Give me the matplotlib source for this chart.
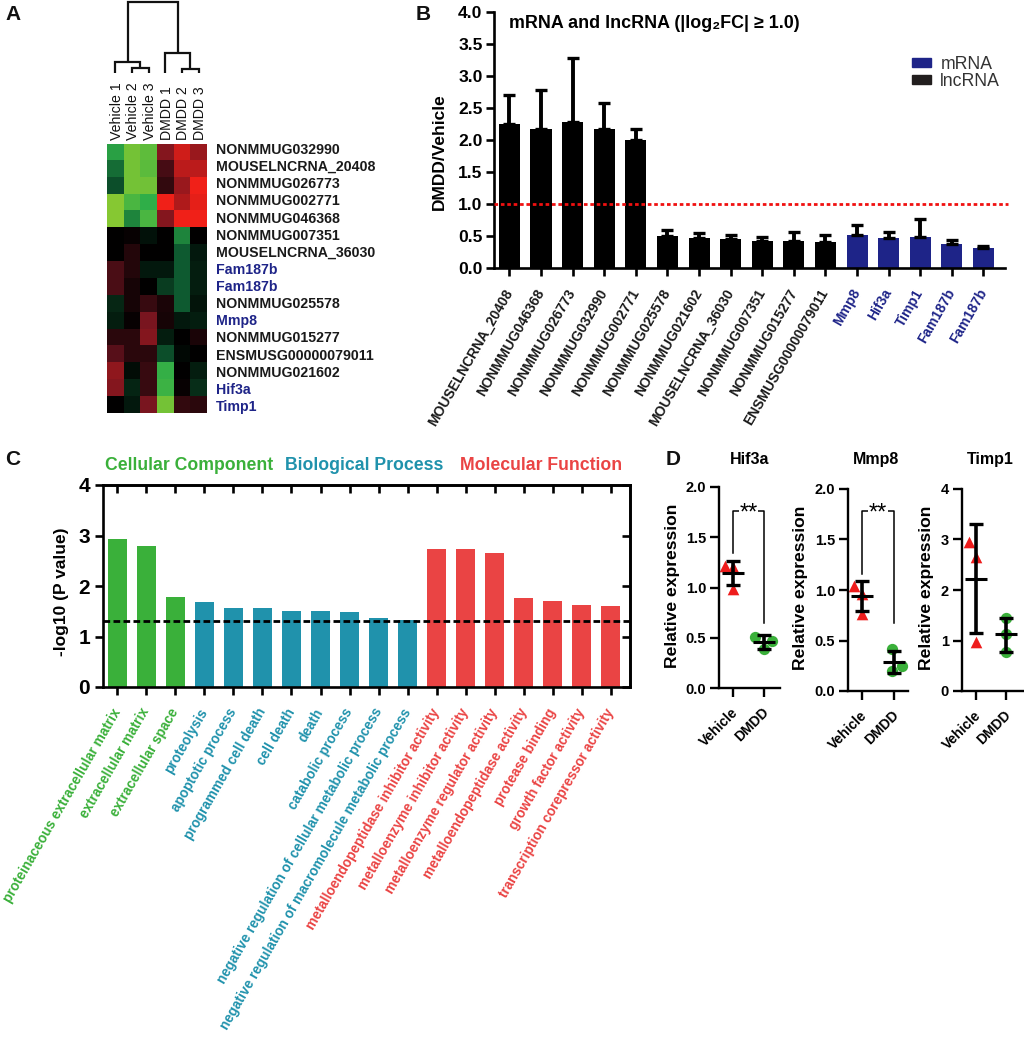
import numpy as np
import matplotlib
matplotlib.use("Agg")
import matplotlib.pyplot as plt
from matplotlib.colors import LinearSegmentedColormap
from matplotlib.patches import Patch
from matplotlib.transforms import ScaledTranslation

plt.rcParams['font.family'] = ['Liberation Sans', 'DejaVu Sans']

W, H = 1024, 1039

# === A: heatmap ===
heat_cols = ['Vehicle 1', 'Vehicle 2', 'Vehicle 3', 'DMDD 1', 'DMDD 2', 'DMDD 3']
heat_rows = ['NONMMUG032990', 'MOUSELNCRNA_20408', 'NONMMUG026773', 'NONMMUG002771',
             'NONMMUG046368', 'NONMMUG007351', 'MOUSELNCRNA_36030', 'Fam187b', 'Fam187b',
             'NONMMUG025578', 'Mmp8', 'NONMMUG015277', 'ENSMUSG00000079011', 'NONMMUG021602',
             'Hif3a', 'Timp1']
mrna_rows = ['Fam187b', 'Mmp8', 'Hif3a', 'Timp1']
heat_vals = [
    [-0.55, -0.92, -0.82, 0.50, 0.85, 0.60],
    [-0.36, -0.92, -0.80, 0.25, 0.75, 0.75],
    [-0.26, -0.92, -0.90, 0.18, 0.60, 1.00],
    [-1.00, -0.72, -0.60, 1.00, 0.70, 0.95],
    [-1.00, -0.45, -0.72, 0.50, 1.00, 1.00],
    [0.00, 0.03, -0.06, 0.00, -0.45, 0.00],
    [0.00, 0.13, 0.00, 0.00, -0.30, -0.08],
    [0.27, 0.13, -0.08, -0.08, -0.30, -0.10],
    [0.27, 0.08, 0.00, -0.20, -0.30, -0.10],
    [-0.13, 0.08, 0.20, 0.10, -0.30, -0.07],
    [-0.10, 0.03, 0.45, 0.08, -0.08, -0.10],
    [0.15, 0.15, 0.50, -0.10, 0.00, 0.10],
    [0.32, 0.15, 0.15, -0.26, -0.03, 0.00],
    [0.55, -0.04, 0.20, -0.62, 0.00, -0.10],
    [0.50, -0.12, 0.20, -0.66, 0.03, -0.15],
    [0.00, -0.08, 0.45, -0.92, 0.18, 0.15],
]
# dendrogram merge heights (root, left, left sub, right, right sub)
dend_heights = [71, 11, 5, 20, 4]

# === B: bars ===
b_names = ['MOUSELNCRNA_20408', 'NONMMUG046368', 'NONMMUG026773', 'NONMMUG032990',
           'NONMMUG002771', 'NONMMUG025578', 'NONMMUG021602', 'MOUSELNCRNA_36030',
           'NONMMUG007351', 'NONMMUG015277', 'ENSMUSG00000079011', 'Mmp8', 'Hif3a',
           'Timp1', 'Fam187b', 'Fam187b']
b_means = [2.25, 2.18, 2.29, 2.18, 2.00, 0.50, 0.47, 0.46, 0.42, 0.43, 0.41, 0.51, 0.47, 0.49, 0.37, 0.31]
b_tops = [2.71, 2.78, 3.29, 2.58, 2.18, 0.59, 0.54, 0.51, 0.49, 0.56, 0.51, 0.68, 0.57, 0.76, 0.44, 0.35]

# === C: GO terms ===
go_terms = ['proteinaceous extracellular matrix', 'extracellular matrix', 'extracellular space',
            'proteolysis', 'apoptotic process', 'programmed cell death', 'cell death', 'death',
            'catabolic process', 'negative regulation of cellular metabolic process',
            'negative regulation of macromolecule metabolic process',
            'metalloendopeptidase inhibitor activity', 'metalloenzyme inhibitor activity',
            'metalloenzyme regulator activity', 'metalloendopeptidase activity',
            'protease binding', 'growth factor activity', 'transcription corepressor activity']
go_vals = [2.93, 2.79, 1.78, 1.68, 1.57, 1.56, 1.50, 1.50, 1.49, 1.37, 1.33,
           2.73, 2.73, 2.66, 1.77, 1.70, 1.62, 1.60]
go_groups = ['cc'] * 3 + ['bp'] * 8 + ['mf'] * 7

# === D: qPCR (points, then mean, lower and upper whisker) ===
hif_veh = [1.21, 1.20, 0.99]
hif_dmdd = [0.51, 0.47, 0.39]
hif_stats = [(1.14, 1.02, 1.26), (0.46, 0.39, 0.53)]
mmp_veh = [1.04, 0.96, 0.76]
mmp_dmdd = [0.42, 0.25, 0.20]
mmp_stats = [(0.94, 0.79, 1.09), (0.29, 0.18, 0.40)]
timp_veh = [2.95, 2.65, 0.98]
timp_dmdd = [1.45, 1.12, 0.78]
timp_stats = [(2.22, 1.14, 3.30), (1.12, 0.78, 1.45)]

GREEN, TEAL, RED = '#3AB03A', '#2092AC', '#EA4444'
NAVY = '#1E2488'
go_colors = {'cc': GREEN, 'bp': TEAL, 'mf': RED}


def add_ax(l, t, r, b):
    return fig.add_axes([l / W, 1 - b / H, (r - l) / W, (b - t) / H])


def ftext(x, y, s, **kw):
    kw.setdefault('ha', 'center')
    kw.setdefault('va', 'center')
    fig.text(x / W, 1 - y / H, s, **kw)


fig = plt.figure(figsize=(W / 100, H / 100), dpi=100)

for s, x, y in [('A', 5, 14), ('B', 416, 14), ('C', 5, 460), ('D', 666, 460)]:
    ftext(x, y, s, ha='left', fontsize=15, fontweight='bold', color='#111111')

# --- panel A ---
cmap = LinearSegmentedColormap.from_list('gbr', [
    (0.00, '#86C832'), (0.20, '#2FAE48'), (0.35, '#0E5A30'), (0.50, '#000000'),
    (0.70, '#6E1420'), (1.00, '#F02018')])
ax = add_ax(107, 144, 207, 413)
ax.imshow(np.array(heat_vals), cmap=cmap, vmin=-1, vmax=1, aspect='auto', interpolation='nearest')
ax.xaxis.tick_top()
ax.set_xticks(np.arange(6) + 0.08)
ax.set_xticklabels(heat_cols, rotation=90, fontsize=10.2, color='#111111')
ax.tick_params(length=0, pad=3)
ax.set_yticks([])
for sp in ax.spines.values():
    sp.set_visible(False)

ax = add_ax(216, 141.5, 400, 415.5)
ax.set_xlim(0, 1)
ax.set_ylim(15.5, -0.5)
ax.axis('off')
for i, name in enumerate(heat_rows):
    ax.text(0, i, name, va='center', ha='left', fontsize=10.2, fontweight='bold',
            color=NAVY if name in mrna_rows else '#1A1A1A')

# dendrogram: leaves on the heatmap columns
ax = add_ax(107, 2, 207, 73)
ax.set_xlim(-0.5, 5.5)
ax.set_ylim(0, dend_heights[0])
ax.axis('off')


def merge(ax, xa, ha, xb, hb, h):
    ax.plot([xa, xa, xb, xb], [ha, h, h, hb], color='#111111', lw=1.6, clip_on=False,
            solid_joinstyle='miter', solid_capstyle='butt')
    return (xa + xb) / 2, h


x_sub, h_sub = merge(ax, 1, 0, 2, 0, dend_heights[2])
x_l, h_l = merge(ax, 0, 0, x_sub, h_sub, dend_heights[1])
x_rs, h_rs = merge(ax, 4, 0, 5, 0, dend_heights[4])
x_r, h_r = merge(ax, 3, 0, x_rs, h_rs, dend_heights[3])
merge(ax, x_l, h_l, x_r, h_r, dend_heights[0])

# --- panel B ---
ax = add_ax(493.6, 12.3, 1004.6, 268)
x = np.arange(len(b_names))
b_colors = ['black'] * 11 + [NAVY] * 5
ax.bar(x, b_means, width=0.665, color=b_colors)
err = [np.zeros(len(b_means)), np.array(b_tops) - np.array(b_means)]
ax.errorbar(x, b_means, yerr=err, fmt='none', ecolor='black', elinewidth=2.8, capsize=4.6, capthick=2.4)
ax.axhline(1.0, color='#F01010', lw=2, ls=(0, (1.3, 1)), zorder=5, xmax=1.0076, clip_on=False)
ax.set_xlim(-0.5, 15.67)
ax.set_ylim(0, 4)
ax.set_yticks(np.arange(0, 4.5, 0.5))
ax.set_yticklabels([f'{v:.1f}' for v in np.arange(0, 4.5, 0.5)], fontsize=12.6, fontweight='bold')
ax.set_xticks(x)
ax.set_xticklabels(b_names, rotation=60, ha='right', va='center', rotation_mode='anchor',
                   fontsize=10, fontweight='bold')
for lab, c in zip(ax.get_xticklabels(), b_colors):
    lab.set_color(c if c != 'black' else '#1A1A1A')
ax.tick_params(width=1.9, length=6, pad=2)
ax.tick_params(axis='x', pad=10)
ax.spines[['top', 'right']].set_visible(False)
ax.spines[['left', 'bottom']].set_linewidth(1.9)
ftext(439.4, 152, 'DMDD/Vehicle', rotation=90, fontsize=12.5, fontweight='bold')
ftext(509.4, 24, 'mRNA and lncRNA (|log\u2082FC| \u2265 1.0)', ha='left', fontsize=12.9, fontweight='bold')
ax.legend(handles=[Patch(color=NAVY, label='mRNA'), Patch(color='#221E1E', label='lncRNA')],
          loc='upper left', bbox_to_anchor=(0.819, 0.83), frameon=False, fontsize=12.7,
          handlelength=1.05, handleheight=0.42, handletextpad=0.55, labelspacing=0.02,
          borderpad=0, borderaxespad=0, labelcolor='#333333')

# --- panel C ---
ax = add_ax(102.6, 485, 629.7, 687)
x = np.arange(len(go_terms))
ax.bar(x, go_vals, width=0.665, color=[go_colors[g] for g in go_groups])
ax.axhline(1.3, color='black', lw=2, ls=(0, (2.4, 1.2)), zorder=5)
ax.set_xlim(-0.506, 17.65)
ax.set_ylim(0, 4)
ax.set_yticks(range(5))
ax.set_yticklabels(range(5), fontsize=15, fontweight='bold')
ax.set_xticks(x)
ax.set_xticklabels(go_terms, rotation=60, ha='right', va='center', rotation_mode='anchor',
                   fontsize=9.85, fontweight='bold')
for lab, g in zip(ax.get_xticklabels(), go_groups):
    lab.set_color(go_colors[g])
ax.tick_params(width=1.9, length=6, pad=3)
ax.tick_params(axis='x', pad=10)
for sp in ax.spines.values():
    sp.set_linewidth(1.9)
sec = ax.secondary_xaxis('top')
sec.set_xticks(x)
sec.tick_params(direction='in', width=1.9, length=6, labeltop=False)
sec.spines['top'].set_linewidth(1.9)
sec = ax.secondary_yaxis('right')
sec.set_yticks(range(5))
sec.tick_params(direction='in', width=1.9, length=6, labelright=False)
sec.spines['right'].set_linewidth(1.9)
ftext(61.5, 592, '-log10 (P value)', rotation=90, fontsize=12.5, fontweight='bold')
ftext(104.6, 466, 'Cellular Component', ha='left', fontsize=12.7, fontweight='bold', color=GREEN)
ftext(285, 466, 'Biological Process', ha='left', fontsize=12.7, fontweight='bold', color=TEAL)
ftext(459.5, 466, 'Molecular Function', ha='left', fontsize=12.7, fontweight='bold', color=RED)


# --- panel D ---
def dot_panel(box, xlim, ymax, yticks, fmt, veh, dmdd, stats, veh_off, dmdd_off, title, title_x, ylab_x, bracket=None):
    ax = add_ax(*box)
    ax.scatter(np.array(veh_off), veh, marker='^', s=70, color='#EE1C1C', linewidths=0, zorder=2, clip_on=False)
    ax.scatter(1 + np.array(dmdd_off), dmdd, marker='o', s=66, color='#3AB03A', linewidths=0, zorder=2, clip_on=False)
    for pos, (m, lo, hi) in enumerate(stats):
        ax.errorbar(pos, m, yerr=[[m - lo], [hi - m]], fmt='none', ecolor='black',
                    elinewidth=2.6, capsize=4.7, capthick=2.4, zorder=3)
        ax.plot(pos, m, marker='_', ms=16, mew=2.2, color='black', zorder=3)
    if bracket:
        yl, yt, yr = bracket
        ax.plot([0, 0, 1, 1], [yl, yt, yt, yr], color='black', lw=1.1, zorder=1)
        ax.text(0.5, yt - 0.01 * ymax, '**', ha='center', va='center', fontsize=17,
                bbox=dict(fc='white', ec='none', pad=0.5), zorder=2)
    ax.set_xlim(*xlim)
    ax.set_ylim(0, ymax)
    ax.set_yticks(yticks)
    ax.set_yticklabels([fmt.format(v) for v in yticks], fontsize=10.5, fontweight='bold')
    ax.set_xticks([0, 1])
    ax.set_xticklabels(['Vehicle', 'DMDD'], rotation=45, ha='right', va='center', rotation_mode='anchor',
                       fontsize=10, fontweight='bold')
    ax.tick_params(width=1.7, length=6.3, pad=3)
    ax.tick_params(axis='x', pad=9.5)
    # labels sit a little right of their ticks
    for lab in ax.get_xticklabels():
        lab.set_transform(lab.get_transform() + ScaledTranslation(3 / 100, 0, fig.dpi_scale_trans))
    ax.spines[['top', 'right']].set_visible(False)
    ax.spines[['left', 'bottom']].set_linewidth(1.7)
    ftext(title_x, 460, title, fontsize=11.5, fontweight='bold')
    ftext(ylab_x, (box[1] + box[3]) / 2 - 2, 'Relative expression', rotation=90, fontsize=12.6, fontweight='bold')


half_ticks = [0, 0.5, 1.0, 1.5, 2.0]
dot_panel((719, 487, 780, 688), (-0.45, 1.52), 2, half_ticks, '{:.1f}', hif_veh, hif_dmdd, hif_stats,
          [-0.27, 0, 0], [-0.28, 0.26, 0], 'Hif3a', 750, 672, bracket=(1.34, 1.76, 0.65))
dot_panel((848, 489, 908, 691), (-0.44, 1.44), 2, half_ticks, '{:.1f}', mmp_veh, mmp_dmdd, mmp_stats,
          [-0.25, 0, 0], [-0.05, 0.26, -0.05], 'Mmp8', 876, 800, bracket=(1.16, 1.78, 0.67))
dot_panel((962, 489, 1023, 691), (-0.47, 1.57), 4, [0, 1, 2, 3, 4], '{:d}', timp_veh, timp_dmdd, timp_stats,
          [-0.25, 0, 0], [0, 0, 0], 'Timp1', 990, 927)

plt.savefig('out.png', dpi=100)
